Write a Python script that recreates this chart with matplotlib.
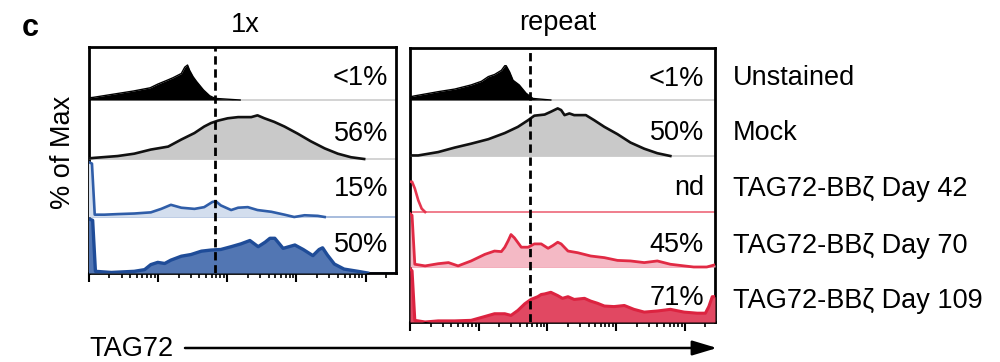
import matplotlib
matplotlib.use("Agg")
import matplotlib.pyplot as plt
from matplotlib.patches import FancyArrowPatch
import numpy as np

plt.rcParams['font.family'] = ['Liberation Sans', 'DejaVu Sans']

# ---------------- data ----------------
row_labels = ["Unstained", "Mock", "TAG72-BBζ Day 42", "TAG72-BBζ Day 70", "TAG72-BBζ Day 109"]
panel_titles = ["1x", "repeat"]
pct_1x = ["<1%", "56%", "15%", "50%"]
pct_repeat = ["<1%", "50%", "nd", "45%", "71%"]
gate_1x = 1.83        # gate position (log decades)
gate_repeat = 1.75
major_ticks = [0, 1, 2, 3, 4]
x_max = 4.44
x_axis_label = "TAG72"
y_axis_label = "% of Max"
panel_letter = "c"

# x in log10 decades, y in % of row height
x_1x_unstained = [0.0, 0.07, 0.31, 0.65, 0.89, 1.00, 1.13, 1.22, 1.34, 1.39, 1.43, 1.46, 1.51, 1.56, 1.66, 1.75, 1.83, 1.95, 2.19]
y_1x_unstained = [4, 5, 10, 17, 23, 30, 37, 42, 50, 62, 66, 56, 44, 35, 19, 8, 3, 2, 0]

x_1x_mock = [0.0, 0.09, 0.42, 0.66, 0.90, 1.15, 1.34, 1.53, 1.67, 1.77, 1.87, 2.01, 2.16, 2.35, 2.44, 2.54, 2.68, 2.83, 3.02, 3.21, 3.41, 3.60, 3.79, 3.98]
y_1x_mock = [1, 2, 5, 9, 16, 21, 33, 44, 55, 61, 65, 69, 71, 71, 74, 69, 63, 55, 43, 30, 18, 9, 3, 0]

x_1x_day42 = [0.0, 0.05, 0.09, 0.23, 0.42, 0.66, 0.90, 1.05, 1.19, 1.34, 1.53, 1.67, 1.79, 1.84, 1.91, 2.06, 2.16, 2.30, 2.44, 2.64, 2.83, 2.97, 3.12, 3.31, 3.41]
y_1x_day42 = [95, 92, 4, 4, 5, 6, 8, 14, 21, 16, 14, 17, 26, 27, 20, 12, 16, 17, 12, 9, 4, 0, 3, 2, 0]

x_1x_day70 = [0.0, 0.06, 0.10, 0.33, 0.66, 0.81, 0.90, 1.00, 1.10, 1.19, 1.34, 1.48, 1.63, 1.77, 1.91, 2.06, 2.20, 2.33, 2.45, 2.55, 2.62, 2.69, 2.81, 2.98, 3.10, 3.24, 3.33, 3.38, 3.45, 3.55, 3.69, 3.89, 4.03]
y_1x_day70 = [97, 94, 3, 1, 3, 6, 15, 19, 17, 23, 30, 33, 39, 41, 42, 47, 52, 58, 47, 55, 62, 62, 44, 50, 42, 31, 42, 45, 32, 16, 7, 3, 0]

x_rep_unstained = [0.0, 0.07, 0.41, 0.65, 0.89, 1.04, 1.14, 1.23, 1.33, 1.38, 1.40, 1.45, 1.50, 1.59, 1.69, 1.79, 1.96, 2.05]
y_rep_unstained = [6, 8, 16, 21, 29, 36, 45, 49, 57, 66, 66, 54, 38, 29, 13, 3, 1, 0]

x_rep_mock = [0.0, 0.12, 0.41, 0.65, 0.89, 1.14, 1.38, 1.57, 1.72, 1.81, 1.96, 2.05, 2.15, 2.20, 2.25, 2.32, 2.39, 2.56, 2.68, 2.83, 3.02, 3.21, 3.41, 3.60, 3.79]
y_rep_mock = [1, 1, 7, 15, 22, 30, 41, 52, 64, 72, 74, 79, 85, 82, 73, 76, 73, 73, 64, 52, 39, 24, 13, 5, 0]

x_rep_day42 = [0.0, 0.03, 0.07, 0.12, 0.17, 0.22]
y_rep_day42 = [54, 54, 42, 21, 6, 0]

x_rep_day70 = [0.0, 0.03, 0.07, 0.22, 0.41, 0.56, 0.70, 0.89, 1.09, 1.23, 1.33, 1.38, 1.43, 1.47, 1.52, 1.62, 1.72, 1.81, 1.91, 2.01, 2.08, 2.15, 2.20, 2.30, 2.44, 2.63, 2.83, 3.02, 3.21, 3.41, 3.60, 3.79, 3.99, 4.13, 4.32, 4.44]
y_rep_day70 = [97, 94, 5, 2, 6, 8, 2, 11, 23, 29, 28, 36, 48, 59, 53, 36, 36, 42, 42, 34, 39, 45, 42, 29, 26, 20, 17, 12, 11, 8, 11, 5, 2, 0, 0, 4]

x_rep_day109 = [0.0, 0.03, 0.07, 0.22, 0.41, 0.65, 0.89, 1.09, 1.23, 1.38, 1.47, 1.57, 1.67, 1.76, 1.86, 1.91, 1.96, 2.05, 2.15, 2.22, 2.30, 2.39, 2.54, 2.63, 2.73, 2.83, 2.97, 3.12, 3.26, 3.41, 3.60, 3.79, 3.99, 4.18, 4.30, 4.35, 4.40, 4.44]
y_rep_day109 = [97, 93, 3, 0, 2, 2, 3, 10, 15, 15, 12, 21, 33, 41, 46, 50, 51, 54, 48, 43, 46, 41, 43, 38, 34, 29, 28, 30, 23, 18, 20, 23, 18, 16, 16, 28, 46, 46]

# ---------------- styles / layout ----------------
W, H = 1000, 362
fig = plt.figure(figsize=(W / 100, H / 100), dpi=100)
FS = 19.5

def fx(px):
    return px / W

def fy(py):
    return 1 - py / H

styles_1x = [
    dict(fill="#000000", line="#000000", lw=1.0, base="#c8c8c8"),
    dict(fill="#c9c9c9", line="#111111", lw=1.9, base="#c8c8c8"),
    dict(fill="#d3deee", line="#2f5da8", lw=1.9, base="#8fa9d3"),
    dict(fill="#5276b3", line="#1f4c98", lw=2.4, base="#1f4c98"),
]
styles_rep = [
    dict(fill="#000000", line="#000000", lw=1.0, base="#c8c8c8"),
    dict(fill="#c9c9c9", line="#111111", lw=1.9, base="#c8c8c8"),
    dict(fill=None, line="#e6364f", lw=1.9, base="#ec5a6e"),
    dict(fill="#f4b9c5", line="#e12a44", lw=2.0, base="#f08a9c"),
    dict(fill="#e14862", line="#dc2340", lw=2.2, base="#dc2340"),
]

def draw_panel(rect, curves, styles, row_bottoms, row_heights, total, gate):
    ax = fig.add_axes(rect)
    ax.set_xlim(0, x_max)
    ax.set_ylim(0, total)
    for (xv, yv), st, b, h in zip(curves, styles, row_bottoms, row_heights):
        xs = np.asarray(xv, float)
        ys = b + np.asarray(yv, float) / 100.0 * h
        ax.plot([0, x_max], [b, b], color=st["base"], lw=1.1, zorder=2)
        if st["fill"] is not None:
            ax.fill_between(xs, b, ys, color=st["fill"], lw=0, zorder=3)
        ax.plot(xs, ys, color=st["line"], lw=st["lw"], zorder=4,
                solid_joinstyle="round")
    ax.axvline(gate, color="black", lw=2.0, ls=(0, (3.0, 1.7)), zorder=5)
    for s in ax.spines.values():
        s.set_linewidth(2.0)
        s.set_color("black")
        s.set_zorder(2.6)
    ax.set_yticks([])
    ax.set_xticks(major_ticks)
    minors = [d + np.log10(k) for d in range(5) for k in range(2, 10)
              if d + np.log10(k) < x_max]
    ax.set_xticks(minors, minor=True)
    ax.tick_params(axis="x", which="major", direction="out", length=6.5,
                   width=1.5, labelbottom=False)
    ax.tick_params(axis="x", which="minor", direction="out", length=3.5,
                   width=1.2)
    return ax

curves_1x = [(x_1x_unstained, y_1x_unstained), (x_1x_mock, y_1x_mock),
             (x_1x_day42, y_1x_day42), (x_1x_day70, y_1x_day70)]
curves_rep = [(x_rep_unstained, y_rep_unstained), (x_rep_mock, y_rep_mock),
              (x_rep_day42, y_rep_day42), (x_rep_day70, y_rep_day70),
              (x_rep_day109, y_rep_day109)]

# left panel: pixel box 88.5..396 x 47..273
draw_panel([fx(88.5), fy(273), fx(396 - 88.5), (273 - 47) / H], curves_1x,
           styles_1x, [173, 114, 56, 0], [53, 59, 58, 56], 226, gate_1x)
# right panel: pixel box 410..715 x 48..322
draw_panel([fx(410), fy(322), fx(305), (322 - 48) / H], curves_rep,
           styles_rep, [222, 166, 110, 55, 0], [52, 56, 56, 55, 55], 274,
           gate_repeat)

# percentage labels
for t, yb in zip(pct_1x, [85, 141.5, 196.5, 252.5]):
    fig.text(fx(388), fy(yb), t, ha="right", va="baseline", fontsize=FS, zorder=10)
for t, yb in zip(pct_repeat, [85.5, 140, 195, 252.5, 305]):
    fig.text(fx(704), fy(yb), t, ha="right", va="baseline", fontsize=FS, zorder=10)

# row labels
for t, yb in zip(row_labels, [85, 140.5, 196.5, 253, 308]):
    fig.text(fx(733), fy(yb), t, ha="left", va="baseline", fontsize=FS)

# titles
fig.text(fx(245), fy(31.5), panel_titles[0], ha="center", va="baseline", fontsize=FS)
fig.text(fx(558), fy(29.5), panel_titles[1], ha="center", va="baseline", fontsize=FS)
fig.text(fx(30), fy(36), panel_letter, ha="center", va="baseline",
         fontsize=22, fontweight="bold")
fig.text(fx(63), fy(152), y_axis_label, ha="center", va="center",
         rotation=90, fontsize=FS)

# x-axis label and arrow
fig.text(fx(89), fy(356), x_axis_label, ha="left", va="baseline", fontsize=FS)
arrow = FancyArrowPatch((fx(185), fy(348)), (fx(717), fy(348)),
                        transform=fig.transFigure,
                        arrowstyle="-|>,head_length=1.0,head_width=0.3",
                        mutation_scale=15, lw=1.8, color="black",
                        shrinkA=0, shrinkB=0)
fig.add_artist(arrow)

fig.savefig("out.png", dpi=100)
